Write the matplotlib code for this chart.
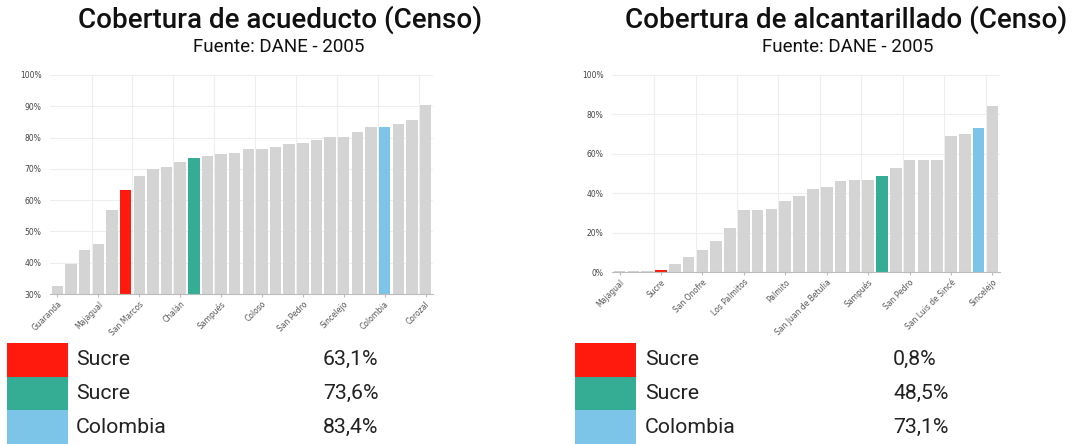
import matplotlib
matplotlib.use("Agg")
from matplotlib import pyplot as plt
from matplotlib.patches import Rectangle

# datos
acu_labels = ["Guaranda", "Majagual", "San Marcos", "Chalán", "Sampués",
              "Coloso", "San Pedro", "Sincelejo", "Colombia", "Corozal"]
acu_values = [32.7, 39.6, 44.0, 46.0, 56.9, 63.1, 67.7, 69.9, 70.5, 72.1,
              73.6, 74.0, 74.6, 75.0, 76.3, 76.3, 76.9, 77.9, 78.2, 79.3,
              80.1, 80.1, 81.9, 83.3, 83.4, 84.3, 85.6, 90.4]
acu_red, acu_green, acu_blue = 5, 10, 24

alc_labels = ["Majagual", "Sucre", "San Onofre", "Los Palmitos", "Palmito",
              "San Juan de Betulia", "Sampués", "San Pedro", "San Luis de Sincé", "Sincelejo"]
alc_values = [0.5, 0.5, 0.5, 0.8, 4.2, 7.6, 11.4, 15.6, 22.4, 31.7,
              31.7, 32.2, 36.0, 38.6, 41.9, 42.9, 46.0, 46.6, 46.6, 48.5,
              53.0, 56.8, 56.8, 57.0, 69.0, 70.0, 73.1, 84.3]
alc_red, alc_green, alc_blue = 3, 19, 26

acu_table = [("Sucre", "63,1%"), ("Sucre", "73,6%"), ("Colombia", "83,4%")]
alc_table = [("Sucre", "0,8%"), ("Sucre", "48,5%"), ("Colombia", "73,1%")]

RED = "#ff1a0d"
GREEN = "#35ad94"
BLUE = "#7cc4e8"
GRAY = "#d4d4d4"

W, H = 1076, 444
fig = plt.figure(figsize=(W / 100, H / 100), dpi=100)


def px_axes(x0, y0, x1, y1):
    # coordenadas en pixeles (origen arriba a la izquierda)
    return fig.add_axes([x0 / W, 1 - y1 / H, (x1 - x0) / W, (y1 - y0) / H])


def bar_chart(ax, values, labels, hl, ymin, ymax, ystep):
    colors = [GRAY] * len(values)
    colors[hl[0]] = RED
    colors[hl[1]] = GREEN
    colors[hl[2]] = BLUE
    x = list(range(len(values)))
    bottoms = [ymin] * len(values)
    ax.bar(x, [v - ymin for v in values], bottom=bottoms, width=0.84,
           color=colors, zorder=3)
    ax.set_xlim(-0.55, len(values) - 0.45)
    ax.set_ylim(ymin, ymax)
    yt = list(range(ymin, ymax + 1, ystep))
    ax.set_yticks(yt)
    ax.set_yticklabels([f"{t}%" for t in yt], fontsize=5.5, color="#444444")
    ticks = x[::3]
    ax.set_xticks(ticks)
    ax.set_xticklabels(labels, rotation=45, ha="right", rotation_mode="anchor",
                       fontsize=5.5, color="#555555")
    ax.tick_params(axis="both", length=2, color="#bbbbbb", pad=2)
    ax.tick_params(axis="y", length=0, pad=6)
    ax.grid(axis="y", color="#eeeeee", linewidth=0.8, zorder=0)
    for t in ticks[1:]:
        ax.axvline(t - 0.5, color="#eeeeee", linewidth=0.8, zorder=0)
    for s in ["top", "right", "left"]:
        ax.spines[s].set_visible(False)
    ax.spines["bottom"].set_color("#bbbbbb")
    ax.spines["bottom"].set_zorder(4)


def draw_table(x0, xtext, xval, rows):
    ax = px_axes(0, 0, W, H)
    ax.set_xlim(0, W)
    ax.set_ylim(H, 0)
    ax.axis("off")
    cols = [RED, GREEN, BLUE]
    top = 343
    rh = 33.7
    for i, (name, val) in enumerate(rows):
        y = top + i * rh
        ax.add_patch(Rectangle((x0, y), 61, rh, color=cols[i], lw=0))
        ax.text(xtext, y + rh / 2, name, fontsize=15.3, family="Roboto",
                va="center", ha="left", color="#222222")
        ax.text(xval, y + rh / 2, val, fontsize=15.3, family="Roboto",
                va="center", ha="left", color="#222222")


ax1 = px_axes(50, 75, 433, 294)
bar_chart(ax1, acu_values, acu_labels, (acu_red, acu_green, acu_blue), 30, 100, 10)

ax2 = px_axes(612, 75, 1000, 272)
bar_chart(ax2, alc_values, alc_labels, (alc_red, alc_green, alc_blue), 0, 100, 20)

fig.text(280 / W, 1 - 20 / H, "Cobertura de acueducto (Censo)", fontsize=20,
         family="Roboto", weight="medium", ha="center", va="center", color="#111111")
fig.text(279 / W, 1 - 47 / H, "Fuente: DANE - 2005", fontsize=13.5,
         family="Roboto", ha="center", va="center", color="#111111")
fig.text(846 / W, 1 - 20 / H, "Cobertura de alcantarillado (Censo)", fontsize=20,
         family="Roboto", weight="medium", ha="center", va="center", color="#111111")
fig.text(848 / W, 1 - 47 / H, "Fuente: DANE - 2005", fontsize=13.5,
         family="Roboto", ha="center", va="center", color="#111111")

draw_table(7, 76, 323, acu_table)
draw_table(575, 645, 893, alc_table)

fig.savefig("out.png", dpi=100, facecolor="white")
